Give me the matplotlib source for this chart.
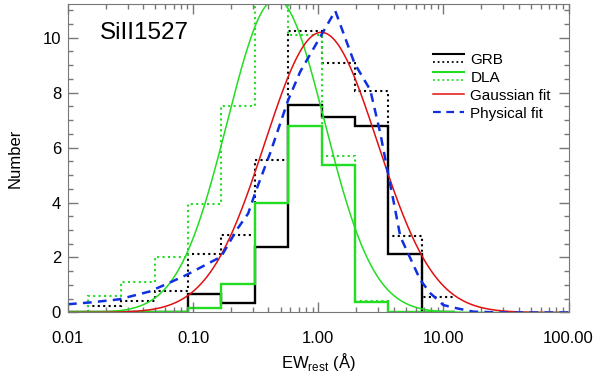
import numpy as np
import matplotlib
matplotlib.use('Agg')
import matplotlib.pyplot as plt
from matplotlib.lines import Line2D
from matplotlib.legend_handler import HandlerBase
from matplotlib.ticker import FixedLocator, FixedFormatter, LogLocator, MultipleLocator

plt.rcParams['font.family'] = ['Liberation Sans', 'DejaVu Sans']
plt.rcParams['mathtext.fontset'] = 'custom'
plt.rcParams['mathtext.rm'] = 'Liberation Sans'

# histogram bins (log10 of EW edges)
log_edges = -1.04 + 0.2666 * np.arange(-4, 9)
grb_solid = [0, 0, 0, 0, 0.66, 0.33, 2.39, 7.55, 7.10, 6.80, 2.13, 0]
grb_dotted = [0, 0.25, 0.43, 0.79, 2.13, 2.82, 5.55, 10.25, 9.08, 8.07, 2.79, 0.58]
dla_solid = [0, 0, 0, 0, 0.15, 1.03, 3.97, 6.78, 5.37, 0.39, 0, 0]
dla_dotted = [0, 0.61, 1.10, 2.03, 3.95, 7.51, 11.6, 10.09, 5.70, 0.42, 0, 0]

# gaussian fits in log10(EW): amplitude, centre, sigma
gauss_grb = (10.19, 0.024, 0.45)
gauss_dla = (11.4, -0.338, 0.39)

# physical fit
phys_logx = [-2.0, -1.81, -1.59, -1.35, -1.19, -1.056, -0.776, -0.648, -0.56, -0.50,
             -0.384, -0.24, -0.144, 0.136, 0.29, 0.416, 0.496, 0.56, 0.60, 0.656,
             0.816, 0.896, 1.0, 1.11, 1.24, 1.46, 2.0]
phys_y = [0.30, 0.37, 0.48, 0.76, 1.08, 1.36, 2.03, 3.03, 3.6, 4.4,
          5.8, 7.73, 8.76, 10.97, 9.06, 8.09, 6.52, 5.0, 4.09, 2.76,
          1.18, 0.70, 0.27, 0.15, 0.03, 0.0, 0.0]

xtick_vals = [0.01, 0.1, 1, 10, 100]
xtick_labels = ['0.01', '0.10', '1.00', '10.00', '100.00']

DOT = (0, (1, 1.6))
DASH = (0, (3.5, 2.5))


class TwoLines(HandlerBase):
    # solid line above, dotted line below, like the IDL legend
    def create_artists(self, legend, orig_handle, xdescent, ydescent,
                       width, height, fontsize, trans):
        arts = []
        for h, yf in zip(orig_handle, (0.9, 0.2)):
            l = Line2D([-xdescent, width - xdescent], [yf * height - ydescent] * 2)
            l.update_from(h)
            l.set_transform(trans)
            arts.append(l)
        return arts


def gauss(lx, p):
    a, m, s = p
    return a * np.exp(-(lx - m) ** 2 / (2 * s ** 2))


fig = plt.figure(figsize=(6, 3.89), dpi=100)
ax = fig.add_axes([0.1133, 0.1967, 0.8342, 0.793])

edges = 10 ** log_edges
ax.stairs(grb_solid, edges, baseline=None, color='black', lw=1.7)
ax.stairs(grb_dotted, edges, baseline=None, color='black', lw=1.5, ls=DOT)
ax.stairs(dla_solid, edges, baseline=None, color='#22dd22', lw=1.7)
ax.stairs(dla_dotted, edges, baseline=None, color='#22dd22', lw=1.5, ls=DOT)

lx = np.linspace(-2, 2, 500)
ax.plot(10 ** lx, gauss(lx, gauss_dla), color='#22dd22', lw=1.1)
ax.plot(10 ** lx, gauss(lx, gauss_grb), color='#e01010', lw=1.1)
ax.plot(10 ** np.array(phys_logx), phys_y, color='#1030e0', lw=1.8, ls=DASH)

ax.set_xscale('log')
ax.set_xlim(0.01, 100)
ax.set_ylim(0, 11.22)
ax.xaxis.set_major_locator(FixedLocator(xtick_vals))
ax.xaxis.set_major_formatter(FixedFormatter(xtick_labels))
ax.xaxis.set_minor_locator(LogLocator(base=10, subs=np.arange(2, 10)))
ax.yaxis.set_major_locator(MultipleLocator(2))
ax.yaxis.set_minor_locator(MultipleLocator(0.5))
ax.tick_params(which='both', direction='in', top=True, right=True, color='#777777')
ax.tick_params(which='major', length=7, width=1, labelsize=12)
ax.tick_params(which='minor', length=3.5, width=1)
ax.tick_params(axis='x', which='major', pad=13)
ax.tick_params(axis='y', which='major', pad=5)
for s in ax.spines.values():
    s.set_color('#777777')

ax.set_ylabel('Number', fontsize=12, labelpad=14)
ax.set_xlabel(r'EW$_{\mathrm{rest}}$ (Å)', fontsize=12, labelpad=4)

ax.text(0.064, 0.906, 'SiII1527', transform=ax.transAxes, fontsize=17.5, va='center', ha='left')

h_grb = (Line2D([], [], color='black', lw=1.5), Line2D([], [], color='black', lw=1.3, ls=DOT))
h_dla = (Line2D([], [], color='#22dd22', lw=1.5), Line2D([], [], color='#22dd22', lw=1.3, ls=DOT))
h_gau = Line2D([], [], color='#e01010', lw=1.1)
h_phy = Line2D([], [], color='#1030e0', lw=1.6, ls=DASH)
ax.legend([h_grb, h_dla, h_gau, h_phy], ['GRB', 'DLA', 'Gaussian fit', 'Physical fit'],
          handler_map={tuple: TwoLines()}, loc='upper left', bbox_to_anchor=(0.729, 0.841),
          frameon=False, fontsize=11, borderpad=0, borderaxespad=0,
          handlelength=2.05, handletextpad=0.4, labelspacing=0.25)

fig.savefig('out.png', dpi=100)
